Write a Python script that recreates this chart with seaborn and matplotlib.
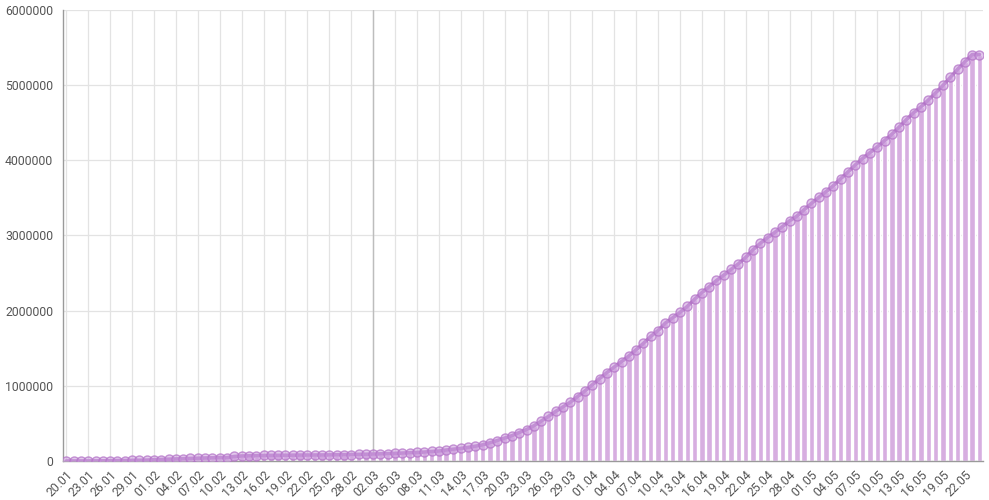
import matplotlib
matplotlib.use("Agg")
import matplotlib.pyplot as plt
import matplotlib.ticker as mticker
import seaborn as sns
import pandas as pd
import numpy as np
import datetime as dt

# Dates 20.01 .. 24.05
start = dt.date(2020, 1, 20)
dates = [(start + dt.timedelta(days=i)).strftime("%d.%m") for i in range(126)]

# cumulative cases (thousands)
cases_k = [
    0.28, 0.56, 0.65, 0.94, 1.43, 2.1, 2.9, 5.6, 6.2, 8.2, 9.9, 12.0,
    16.8, 19.9, 23.9, 27.6, 30.8, 34.4, 37.1, 40.2, 42.8, 44.8, 45.2, 60.4,
    66.9, 69.0, 71.2, 73.3, 75.2, 75.7, 76.7, 77.8, 78.8, 79.3, 80.0, 80.4,
    81.4, 82.7, 84.1, 86.0, 88.4, 90.3, 92.8, 95.1, 97.9, 101.8, 105.8, 109.8,
    113.6, 119.0, 126.7, 132.5, 146.0, 157.4, 167.4, 181.5, 197.1, 214.9, 242.7, 272.2,
    304.5, 337.0, 378.2, 418.0, 467.7, 529.6, 593.3, 660.7, 720.1, 782.4, 857.5, 932.6,
    1013.2, 1095.9, 1176.1, 1249.8, 1321.5, 1396.5, 1480.2, 1565.3, 1657.5, 1735.7, 1834.7, 1904.8,
    1976.2, 2056.1, 2152.4, 2240.2, 2317.8, 2401.4, 2472.3, 2549.1, 2623.2, 2708.9, 2811.2, 2896.7,
    2971.5, 3041.8, 3116.4, 3193.9, 3256.8, 3343.8, 3427.3, 3506.7, 3583.0, 3662.7, 3755.3, 3845.7,
    3938.1, 4024.0, 4101.7, 4177.5, 4261.7, 4347.0, 4442.2, 4542.3, 4634.1, 4713.6, 4801.9, 4897.5,
    4996.5, 5102.4, 5210.8, 5310.4, 5407.6, 5407.6,
]
cases = [v * 1000 for v in cases_k]

df = pd.DataFrame({"idx": np.arange(len(dates)), "date": dates, "cases": cases})

sns.set_style("white")
plt.rcParams["font.family"] = ["Roboto", "DejaVu Sans"]

fig = plt.figure(figsize=(9.89, 5.0), dpi=100)
ax = fig.add_axes([0.0637, 0.078, 0.930, 0.902])

sns.barplot(data=df, x="idx", y="cases", color="#d7aee0", width=0.74,
            saturation=1, ax=ax, zorder=2)
sns.lineplot(data=df, x="idx", y="cases", color="#b87fca", linewidth=2.6,
             marker="o", markersize=6.5,
             markerfacecolor=(0.80, 0.62, 0.87, 0.55),
             markeredgecolor=(0.70, 0.45, 0.78, 0.75),
             markeredgewidth=1.0, ax=ax, zorder=3)

ax.set_xlim(-0.45, 125.45)
ax.set_ylim(0, 6000000)
ax.set_yticks(np.arange(0, 6000001, 1000000))
ax.yaxis.set_major_formatter(mticker.FuncFormatter(lambda v, p: f"{int(v)}"))

ticks = list(range(0, len(dates), 3))
ax.set_xticks(ticks)
ax.set_xticklabels([dates[i] for i in ticks], rotation=45, ha="right",
                   rotation_mode="anchor")

ax.grid(True, axis="both", color="#e3e3e3", linewidth=0.9, zorder=0)
ax.set_axisbelow(True)
ax.axvline(42, color="#bdbdbd", linewidth=1.0, zorder=1)

for s in ["top", "right"]:
    ax.spines[s].set_visible(False)
for s in ["left", "bottom"]:
    ax.spines[s].set_color("#9a9a9a")
    ax.spines[s].set_linewidth(1.0)

ax.tick_params(axis="both", colors="#555555", labelsize=8.8, length=5,
               width=0.8, color="#d0d0d0", pad=2)
ax.tick_params(axis="x", length=4, pad=1)
ax.set_xlabel("")
ax.set_ylabel("")

fig.savefig("out.png", dpi=100)
